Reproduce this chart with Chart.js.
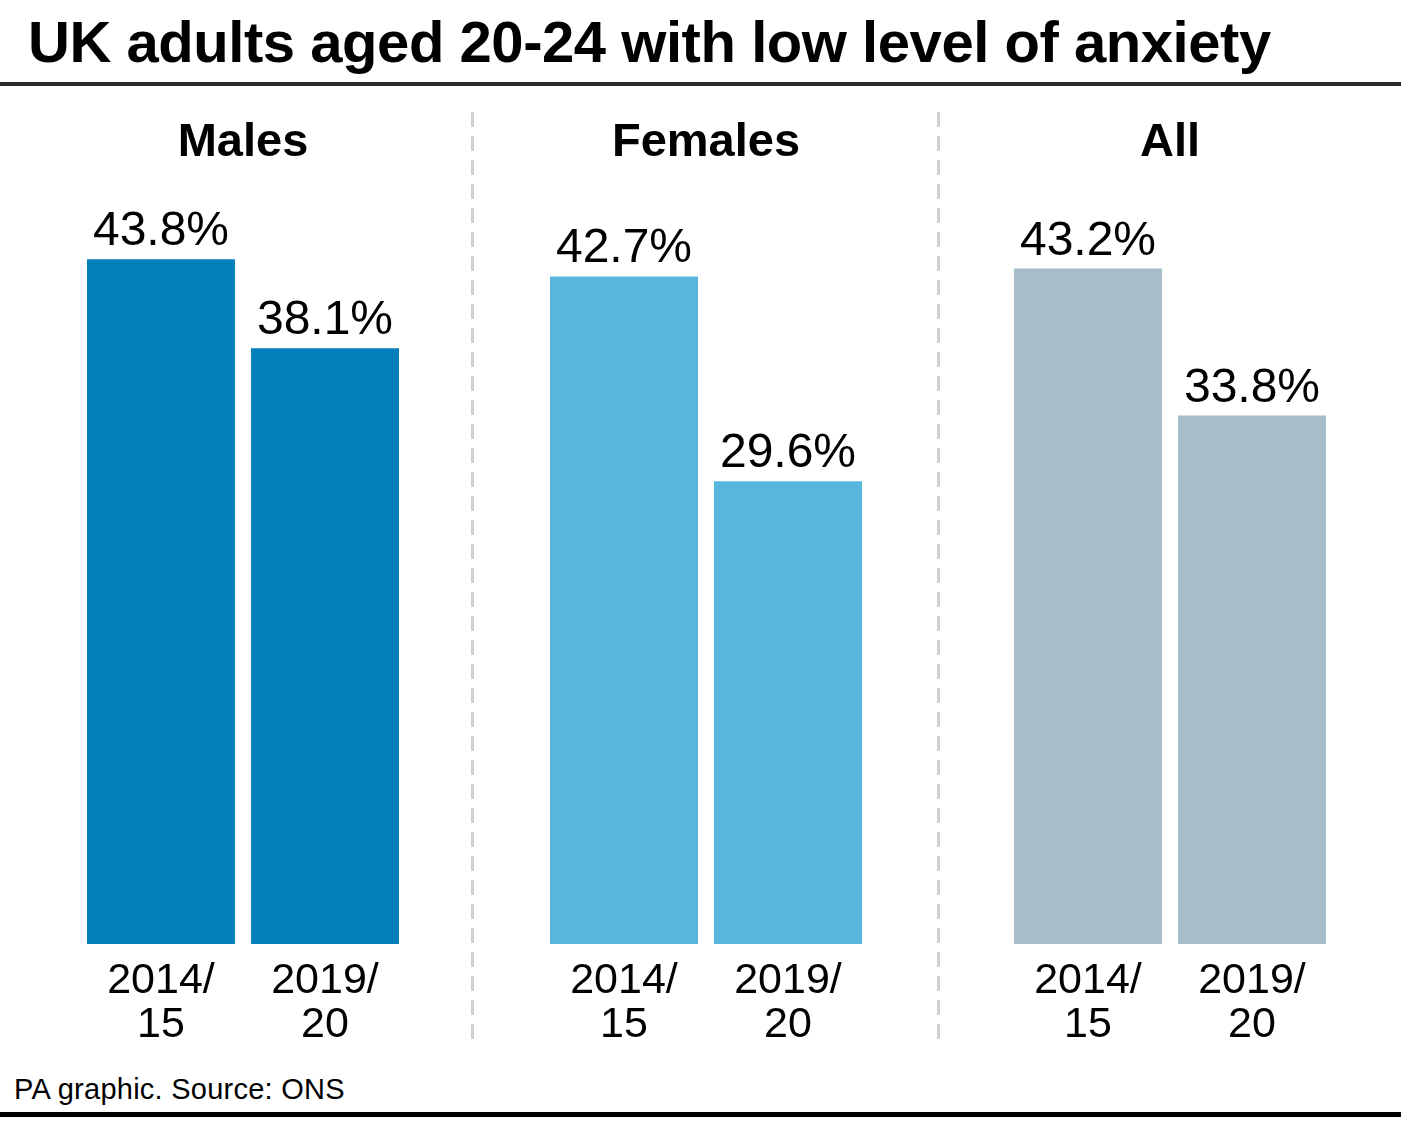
<!DOCTYPE html>
<html>
<head>
<meta charset="utf-8">
<script src="https://cdn.jsdelivr.net/npm/chart.js@4/dist/chart.umd.min.js"></script>
<style>
  html, body { margin: 0; padding: 0; background: #fff; }
  #page { position: relative; width: 1401px; height: 1128px; overflow: hidden; background: #fff;
          font-family: "Liberation Sans", Arial, sans-serif; color: #000; }
  #title { position: absolute; left: 28px; top: 8px; font-size: 58px; font-weight: bold;
           letter-spacing: -0.45px; white-space: nowrap; }
  .rule { position: absolute; left: 0; width: 1401px; }
  #topRule { top: 82px; height: 4px; background: #2a2a2a; }
  #bottomRule { top: 1112px; height: 5px; background: #000; }
  .sep { position: absolute; top: 112px; height: 928px; width: 3px;
         background: repeating-linear-gradient(to bottom, #cfcfcf 0 15px, transparent 15px 24px); }
  #footer { position: absolute; left: 14px; top: 1073px; font-size: 29px; letter-spacing: 0.25px; }
  canvas.panel { position: absolute; top: 100px; }
</style>
</head>
<body>
<div id="page">
  <div id="title">UK adults aged 20-24 with low level of anxiety</div>
  <div class="rule" id="topRule"></div>
  <div class="sep" style="left:471px"></div>
  <div class="sep" style="left:937px"></div>
  <canvas class="panel" id="c0" width="464" height="954" style="left:11px"></canvas>
  <canvas class="panel" id="c1" width="464" height="954" style="left:474px"></canvas>
  <canvas class="panel" id="c2" width="464" height="954" style="left:938px"></canvas>
  <div id="footer">PA graphic. Source: ONS</div>
  <div class="rule" id="bottomRule"></div>
</div>
<script>
// data
const groups = ['Males', 'Females', 'All'];
const periods = [['2014/', '15'], ['2019/', '20']];
const males = [43.8, 38.1];
const females = [42.7, 29.6];
const allAdults = [43.2, 33.8];
const barColours = ['#0380bc', '#57b7df', '#a7bdca'];

const seriesList = [males, females, allAdults];
const FONT = '"Liberation Sans", Arial, sans-serif';

// value labels above bars
const valueLabels = {
  id: 'valueLabels',
  afterDatasetsDraw(chart) {
    const ctx = chart.ctx;
    const meta = chart.getDatasetMeta(0);
    const vals = chart.data.datasets[0].data;
    ctx.save();
    ctx.font = '48px ' + FONT;
    ctx.fillStyle = '#000';
    ctx.textAlign = 'center';
    ctx.textBaseline = 'alphabetic';
    meta.data.forEach(function (bar, i) {
      ctx.fillText(vals[i].toFixed(1) + '%', bar.x, bar.y - 14);
    });
    ctx.restore();
  }
};

for (var i = 0; i < groups.length; i++) {
  new Chart(document.getElementById('c' + i), {
    type: 'bar',
    data: {
      labels: periods,
      datasets: [{
        data: seriesList[i],
        backgroundColor: barColours[i],
        borderWidth: 0,
        categoryPercentage: 148 / 164,
        barPercentage: 1
      }]
    },
    options: {
      responsive: false,
      animation: false,
      devicePixelRatio: 1,
      layout: { padding: { left: 68, right: 68, top: 0, bottom: 0 } },
      plugins: {
        legend: { display: false },
        tooltip: { enabled: false },
        title: {
          display: true,
          text: groups[i],
          color: '#000',
          font: { family: FONT, size: 47, weight: 'bold', lineHeight: 1 },
          padding: { top: 20, bottom: 0 }
        }
      },
      scales: {
        x: {
          grid: { display: false, drawTicks: false },
          border: { display: false },
          ticks: {
            color: '#000',
            padding: 15,
            font: { family: FONT, size: 43, lineHeight: 1.03 }
          },
          afterFit(scale) { scale.height = 110; }
        },
        y: {
          display: false,
          min: 0,
          max: 49.7
        }
      }
    },
    plugins: [valueLabels]
  });
}
</script>
</body>
</html>
